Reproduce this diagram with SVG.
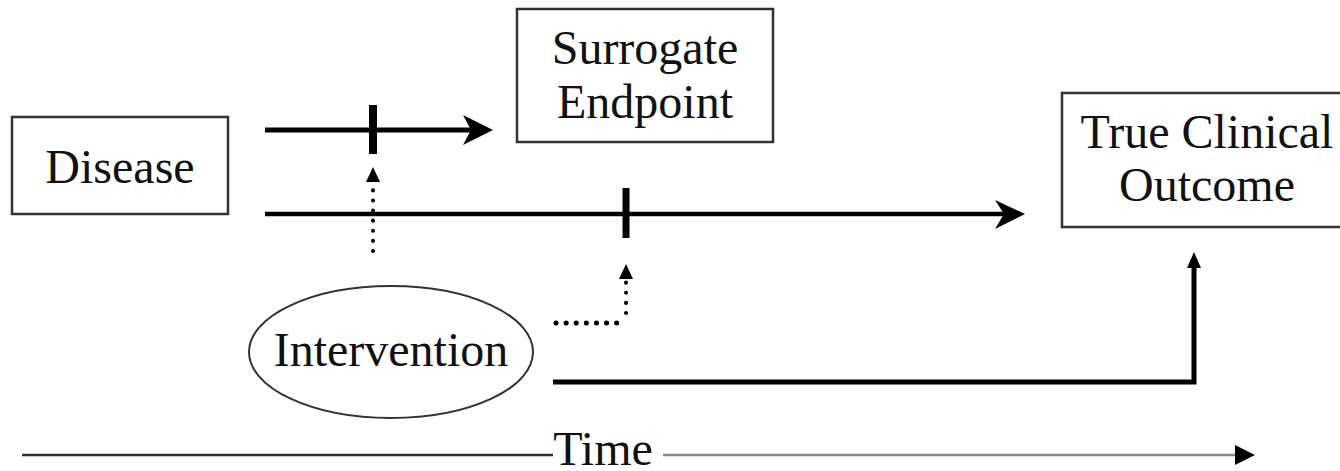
<svg xmlns="http://www.w3.org/2000/svg" width="1340" height="471" viewBox="0 0 1340 471">
  <style>
    .box { fill: #fff; stroke: #333; stroke-width: 2.5; }
    .lbl { font-family: "Liberation Serif", "Times New Roman", serif; font-size: 48px; fill: #111; text-anchor: middle; }
    .solid { fill: none; stroke: #000; stroke-width: 5; }
    .dots { fill: none; stroke: #000; stroke-width: 4; stroke-dasharray: 0.1 10; stroke-linecap: round; }
    .dots-bold { fill: none; stroke: #000; stroke-width: 5; stroke-dasharray: 0.1 10; stroke-linecap: round; }
    .head { fill: #000; }
  </style>

  <g id="disease">
    <rect class="box" x="12" y="117" width="216" height="97"/>
    <text class="lbl" x="120" y="183">Disease</text>
  </g>

  <g id="surrogate-endpoint">
    <rect class="box" x="517" y="9" width="256" height="133"/>
    <text class="lbl" x="645" y="64">Surrogate</text>
    <text class="lbl" x="645" y="118">Endpoint</text>
  </g>

  <g id="true-clinical-outcome">
    <rect class="box" x="1062" y="93" width="290" height="134"/>
    <text class="lbl" x="1207" y="148">True Clinical</text>
    <text class="lbl" x="1207" y="201">Outcome</text>
  </g>

  <g id="intervention">
    <ellipse cx="391" cy="352" rx="142" ry="66" fill="#fff" stroke="#333" stroke-width="2"/>
    <text class="lbl" x="391" y="366">Intervention</text>
  </g>

  <g id="connectors">
    <!-- disease to surrogate endpoint, with blocking tick -->
    <line class="solid" x1="265" y1="130" x2="488" y2="130"/>
    <path class="head" d="M493,130 L463,115 L471,130 L463,145 Z"/>
    <line x1="373" y1="105" x2="373" y2="154" stroke="#000" stroke-width="8"/>

    <!-- disease to true clinical outcome, with blocking tick -->
    <line x1="265" y1="214" x2="1020" y2="214" stroke="#000" stroke-width="4.5"/>
    <path class="head" d="M1025,214 L995,200 L1004,214 L995,229 Z"/>
    <line x1="626" y1="188" x2="626" y2="238" stroke="#000" stroke-width="7"/>

    <!-- intervention acting on the surrogate pathway -->
    <line class="dots" x1="373" y1="251" x2="373" y2="186"/>
    <path class="head" d="M373,167 L366,182 L380,182 Z"/>

    <!-- intervention acting on the clinical pathway -->
    <line class="dots-bold" x1="556" y1="323" x2="626" y2="323"/>
    <line class="dots" x1="626" y1="313" x2="626" y2="282"/>
    <path class="head" d="M626,264 L619,279 L633,279 Z"/>

    <!-- direct effect of intervention on the outcome -->
    <polyline class="solid" points="553,382 1194,382 1194,268"/>
    <path class="head" d="M1194,252 L1187,268 L1201,268 Z"/>

    <!-- time axis -->
    <line x1="22" y1="455" x2="553" y2="455" stroke="#333" stroke-width="2.5"/>
    <line x1="663" y1="455" x2="1238" y2="455" stroke="#888" stroke-width="2.5"/>
    <path class="head" d="M1255,455 L1235,445 L1235,465 Z"/>
  </g>

  <text class="lbl" x="603" y="465">Time</text>
</svg>
